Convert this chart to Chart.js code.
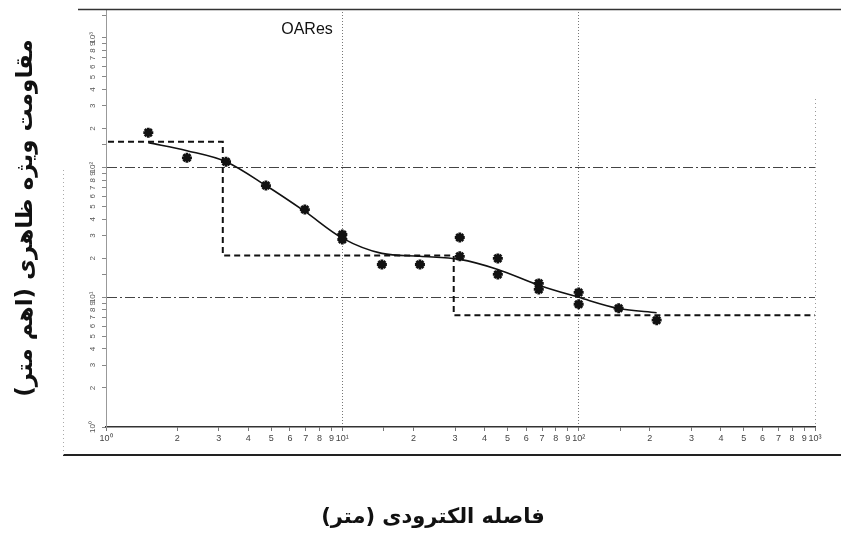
<!DOCTYPE html>
<html>
<head>
<meta charset="utf-8">
<script src="https://cdn.jsdelivr.net/npm/chart.js@4.4.1/dist/chart.umd.min.js"></script>
<style>
  html, body { margin: 0; padding: 0; background: #fff; }
  #wrap { width: 841px; height: 541px; }
</style>
</head>
<body>
<div id="wrap"><canvas id="soundingChart" width="841" height="541"></canvas></div>
<script>
// Field readings (electrode spacing in m, apparent resistivity in ohm.m)
const spacing = [1.51, 2.20, 3.22, 4.75, 6.94, 10, 10, 14.7, 21.3, 31.4, 31.4, 45.5, 45.5, 67.8, 67.8, 100, 100, 147.6, 213.8];
const apparentRes = [186, 119, 111, 72.7, 47.5, 30.5, 27.9, 17.9, 17.9, 28.9, 20.7, 19.95, 15.0, 12.8, 11.5, 10.9, 8.84, 8.23, 6.66];

// Fitted (calculated) curve
const curveSpacing = [1.51, 2.20, 3.22, 4.75, 6.94, 10, 14.7, 21.3, 31.4, 45.5, 67.8, 100, 147.6, 213.8];
const curveRes = [155.7, 135, 111, 72.7, 45.9, 28.6, 21.8, 20.7, 19.6, 16.4, 12.4, 10, 8.2, 7.6];

// Layered model: resistivity of each layer and bottom of each layer
const layerRes = [158.5, 21.0, 7.27];
const layerBottom = [3.12, 29.6];
const modelStart = 1.02;
const modelEnd = 1000;

// Tick labels for the decades
const decadeLabels = { 1: '10\u2070', 10: '10\u00B9', 100: '10\u00B2', 1000: '10\u00B3' };

const chartTitle = 'OARes';
const yTitle = 'مقاومت ویژه ظاهری (اهم متر)';
const xTitle = 'فاصله الکترودی (متر)';

function logLabel(value) {
    if (decadeLabels[value]) return decadeLabels[value];
    const exp = Math.floor(Math.log10(value) + 1e-9);
    const sig = Math.round(value / Math.pow(10, exp) * 100) / 100;
    if (Number.isInteger(sig) && sig >= 2 && sig <= 9) return String(sig);
    return '';
}

function buildModelSteps() {
    const pts = [];
    let x = modelStart;
    for (let i = 0; i < layerRes.length; i++) {
        const end = i < layerBottom.length ? layerBottom[i] : modelEnd;
        pts.push({ x: x, y: layerRes[i] });
        pts.push({ x: end, y: layerRes[i] });
        x = end;
    }
    return pts;
}

const isMajor = function(ctx) {
    return ctx.tick && (ctx.tick.value === 10 || ctx.tick.value === 100);
};

// frame lines, plot title and the x caption
const framePlugin = {
    id: 'framePlugin',
    afterDraw: function(chart) {
        const ctx = chart.ctx;
        const area = chart.chartArea;
        ctx.save();
        // outer box
        ctx.strokeStyle = '#333';
        ctx.lineWidth = 1.5;
        ctx.beginPath();
        ctx.moveTo(78, 9.5);
        ctx.lineTo(841, 9.5);
        ctx.stroke();
        ctx.lineWidth = 2;
        ctx.strokeStyle = '#222';
        ctx.beginPath();
        ctx.moveTo(63, 455);
        ctx.lineTo(841, 455);
        ctx.stroke();
        ctx.lineWidth = 1;
        ctx.strokeStyle = '#aaa';
        ctx.setLineDash([1, 3]);
        ctx.beginPath();
        ctx.moveTo(63.5, 170);
        ctx.lineTo(63.5, 455);
        ctx.stroke();
        // right edge of the plot
        ctx.strokeStyle = '#999';
        ctx.beginPath();
        ctx.moveTo(area.right + 0.5, area.top + 90);
        ctx.lineTo(area.right + 0.5, area.bottom);
        ctx.stroke();
        ctx.setLineDash([]);
        // title inside the plot
        ctx.fillStyle = '#111';
        ctx.font = '16px "Liberation Sans", Arial, sans-serif';
        ctx.textAlign = 'center';
        ctx.textBaseline = 'middle';
        ctx.fillText(chartTitle, 307, 30);
        // x caption
        ctx.font = 'bold 21px "DejaVu Sans", sans-serif';
        ctx.fillText(xTitle, 433, 518);
        ctx.restore();
    }
};

function initializeSoundingChart() {
    const canvas = document.getElementById('soundingChart');
    if (!canvas) return;

    const points = spacing.map(function(s, i) { return { x: s, y: apparentRes[i] }; });
    const curve = curveSpacing.map(function(s, i) { return { x: s, y: curveRes[i] }; });

    new Chart(canvas, {
        type: 'scatter',
        data: {
            datasets: [{
                label: 'Observed',
                data: points,
                order: 0,
                pointStyle: 'star',
                pointRadius: 5,
                pointBorderWidth: 2.8,
                borderColor: '#111',
                backgroundColor: '#111',
                showLine: false
            }, {
                label: 'Calculated',
                data: curve,
                order: 1,
                showLine: true,
                borderColor: '#111',
                borderWidth: 1.6,
                pointRadius: 0,
                cubicInterpolationMode: 'monotone'
            }, {
                label: 'Model',
                data: buildModelSteps(),
                order: 2,
                showLine: true,
                borderColor: '#111',
                borderWidth: 2,
                borderDash: [6, 4],
                pointRadius: 0,
                tension: 0
            }]
        },
        options: {
            responsive: false,
            animation: false,
            layout: {
                padding: { left: 0, top: 9, right: 26, bottom: 0 }
            },
            scales: {
                x: {
                    type: 'logarithmic',
                    position: 'bottom',
                    min: 1,
                    max: 1000,
                    afterFit: function(scale) { scale.height = 114; },
                    grid: {
                        color: function(ctx) { return isMajor(ctx) ? '#777' : 'rgba(0,0,0,0)'; },
                        lineWidth: 1,
                        drawTicks: true,
                        tickLength: 4,
                        tickColor: '#777'
                    },
                    border: {
                        display: true,
                        color: '#333',
                        width: 1.5,
                        dash: [1, 2]
                    },
                    ticks: {
                        autoSkip: false,
                        maxRotation: 0,
                        minRotation: 0,
                        padding: 2,
                        color: '#444',
                        font: { family: '"Liberation Sans", Arial, sans-serif', size: 9 },
                        callback: function(value) { return logLabel(value); }
                    }
                },
                y: {
                    type: 'logarithmic',
                    position: 'left',
                    min: 1,
                    max: 1670,
                    afterFit: function(scale) { scale.width = 106; },
                    grid: {
                        color: function(ctx) { return isMajor(ctx) ? '#444' : 'rgba(0,0,0,0)'; },
                        lineWidth: 1,
                        drawTicks: true,
                        tickLength: 4,
                        tickColor: '#888'
                    },
                    border: {
                        display: true,
                        color: '#999',
                        width: 1,
                        dash: [10, 3, 2, 3]
                    },
                    ticks: {
                        autoSkip: false,
                        minRotation: 90,
                        maxRotation: 90,
                        crossAlign: 'center',
                        padding: 3,
                        color: '#555',
                        font: { family: '"Liberation Sans", Arial, sans-serif', size: 8 },
                        callback: function(value) { return logLabel(value); }
                    },
                    title: {
                        display: true,
                        text: yTitle,
                        color: '#111',
                        padding: { top: 12, bottom: 12 },
                        font: { family: '"DejaVu Sans", sans-serif', size: 23, weight: 'bold' }
                    }
                }
            },
            plugins: {
                legend: { display: false },
                tooltip: { enabled: false }
            }
        },
        plugins: [framePlugin]
    });
}

document.addEventListener('DOMContentLoaded', function() {
    initializeSoundingChart();
});
</script>
</body>
</html>
